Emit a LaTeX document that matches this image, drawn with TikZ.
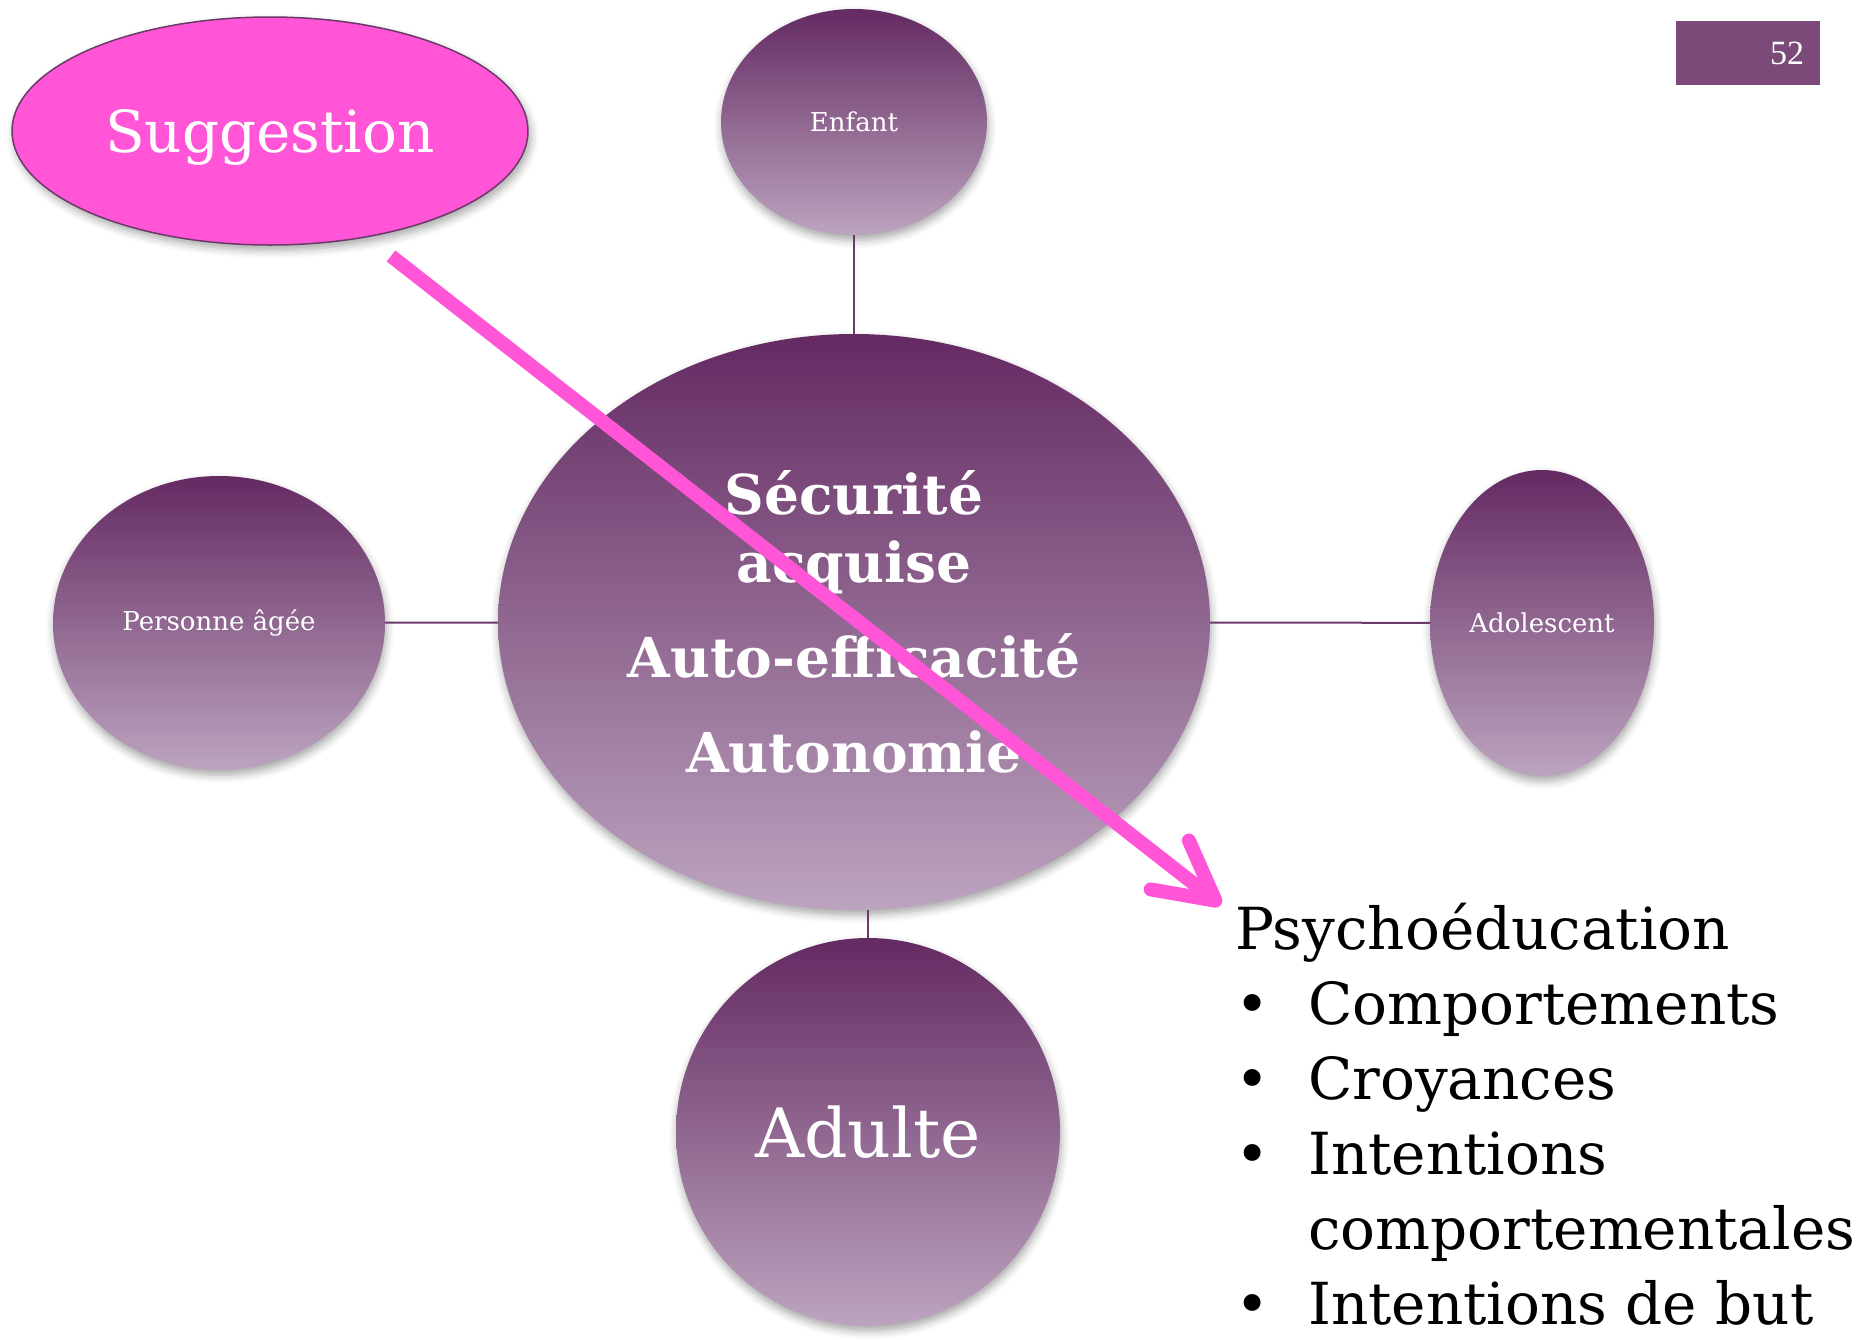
\documentclass[tikz,border=0pt]{standalone}
\usepackage{fontspec}
\setmainfont{DejaVu Serif}
\newfontfamily\pagefont{Liberation Serif}
\usetikzlibrary{arrows.meta, shapes.geometric, positioning, shadows.blur}
\definecolor{PlumDark}{HTML}{642A62}
\definecolor{PlumLight}{HTML}{BCA4BF}
\definecolor{PlumLine}{HTML}{6B3A69}
\definecolor{PlumBox}{HTML}{7C4A78}
\definecolor{HotPink}{HTML}{FF55D6}
\newcommand{\listbullet}{\makebox[73pt][l]{•}}

\begin{document}
\begin{tikzpicture}[x=1pt, y=-1pt,
    blob/.style={ellipse, inner sep=0pt, outer sep=0pt, top color=PlumDark, bottom color=PlumLight, text=white, align=center,
      blur shadow={shadow xshift=1pt, shadow yshift=-5pt, shadow blur radius=8pt, shadow opacity=35}},
    small/.style={font=\fontsize{26}{30}\selectfont},
    link/.style={draw=PlumLine, line width=2pt},
    hint/.style={draw=HotPink, line width=14pt, -{Straight Barb[length=58pt, width=62pt, round]}},
    listtext/.style={inner sep=0pt, align=left, font=\fontsize{58}{75}\selectfont}]
  \useasboundingbox (0,0) rectangle (1868,1339);

  % centre and the four ages
  \node[blob, minimum width=712pt, minimum height=576pt, font=\bfseries\fontsize{55}{68}\selectfont] (core) at (854,622) {Sécurité\\acquise\\[27pt]Auto-efficacité\\[27pt]Autonomie};
  \node[blob, small, minimum width=266pt, minimum height=226pt] (child) at (854,122) {Enfant};
  \node[blob, small, minimum width=332pt, minimum height=294pt] (elder) at (219,623) {Personne âgée};
  \node[blob, small, minimum width=224pt, minimum height=306pt] (teen) at (1542,623) {Adolescent};
  \node[blob, minimum width=384pt, minimum height=388pt, font=\fontsize{68}{76}\selectfont] (adult) at (868,1132) {Adulte};

  \draw[link] (child) -- (core);
  \draw[link] (elder) -- (core);
  \draw[link] (core) -- (teen);
  \draw[link] (adult.north) -- (adult.north |- core.south);

  % suggestion bubble
  \node[ellipse, draw=PlumLine, line width=1.5pt, fill=HotPink, text=white, minimum width=516pt, minimum height=228pt, inner sep=0pt,
    text height=56pt, text depth=14pt, font=\fontsize{58}{64}\selectfont,
    blur shadow={shadow yshift=-5pt, shadow blur radius=8pt, shadow opacity=35}] (sugg) at (270,131) {Suggestion};

  % page number
  \node[fill=PlumBox, minimum width=144pt, minimum height=64pt, inner sep=0pt] (pagebox) at (1748,53) {};
  \node[text=white, inner sep=0pt, anchor=east, font=\pagefont\fontsize{34}{34}\selectfont] (pagenum) at ([xshift=-16pt]pagebox.east) {52};

  % list
  \node[listtext, anchor=north west] (psy) at (1235,903) {Psychoéducation\\
    \listbullet Comportements\\
    \listbullet Croyances\\
    \listbullet Intentions\\
    \hspace*{73pt}comportementales\\
    \listbullet Intentions de but};

  \coordinate (hint start) at (391,256);
  \coordinate (hint end) at (1221,905);
  \draw[hint] (hint start) -- (hint end);
\end{tikzpicture}
\end{document}
